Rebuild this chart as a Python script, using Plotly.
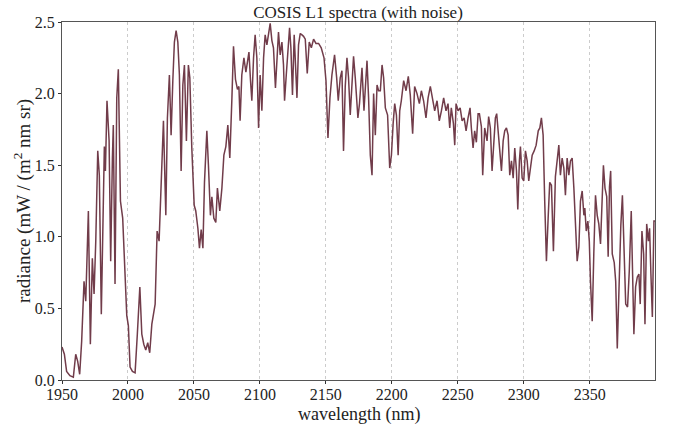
import plotly.graph_objects as go

wavelength = [
    1950.0, 1951.8, 1953.5, 1956.0, 1958.6, 1960.4, 1961.9, 1963.4, 1964.9, 1966.7,
    1968.0, 1970.0, 1971.5, 1973.0, 1974.3, 1975.6, 1977.1, 1978.3, 1979.8, 1980.9,
    1982.1, 1982.9, 1984.1, 1985.7, 1986.9, 1988.2, 1988.9, 1990.2, 1991.5, 1992.7,
    1994.3, 1996.0, 1997.8, 1999.1, 2000.3, 2001.6, 2003.4, 2005.4, 2007.1, 2009.0,
    2010.5, 2012.0, 2013.5, 2015.0, 2016.5, 2018.1, 2020.6, 2022.1, 2023.6, 2025.1,
    2026.9, 2028.7, 2029.9, 2031.4, 2032.7, 2034.0, 2035.2, 2036.5, 2037.8, 2039.0,
    2040.3, 2041.6, 2042.8, 2044.3, 2045.8, 2046.9, 2048.4, 2050.2, 2051.4, 2053.0,
    2054.2, 2055.5, 2056.8, 2058.0, 2059.8, 2061.0, 2062.5, 2063.6, 2065.1, 2066.6,
    2067.8, 2069.6, 2071.2, 2072.7, 2074.2, 2075.7, 2077.2, 2078.8, 2080.0, 2081.5,
    2083.0, 2084.1, 2085.0, 2086.3, 2087.9, 2089.4, 2090.6, 2091.7, 2092.9, 2093.9,
    2095.2, 2096.4, 2097.7, 2099.0, 2100.2, 2101.5, 2102.8, 2104.0, 2105.3, 2106.5,
    2107.8, 2109.1, 2110.3, 2111.8, 2113.1, 2114.1, 2115.4, 2116.7, 2117.9, 2118.7,
    2120.0, 2121.2, 2122.5, 2123.5, 2124.7, 2126.0, 2127.0, 2128.1, 2129.3, 2130.6,
    2131.9, 2133.1, 2134.4, 2135.9, 2137.4, 2139.0, 2140.7, 2142.5, 2144.5, 2146.5,
    2148.6, 2150.1, 2151.6, 2153.1, 2154.6, 2156.6, 2158.2, 2159.4, 2160.9, 2162.2,
    2163.4, 2164.7, 2166.0, 2167.2, 2168.5, 2169.8, 2171.0, 2172.3, 2174.3, 2175.5,
    2177.4, 2178.9, 2181.2, 2182.4, 2183.7, 2185.0, 2186.2, 2187.5, 2188.8, 2190.0,
    2191.3, 2192.6, 2193.8, 2195.1, 2196.8, 2198.4, 2199.7, 2201.0, 2202.2, 2203.5,
    2204.8, 2206.0, 2207.2, 2209.0, 2210.8, 2212.5, 2214.0, 2215.8, 2217.3, 2219.1,
    2220.9, 2222.4, 2224.1, 2225.9, 2227.5, 2229.2, 2231.0, 2232.5, 2234.3, 2236.0,
    2237.6, 2239.3, 2241.1, 2242.6, 2243.9, 2245.1, 2246.7, 2247.7, 2248.7, 2250.2,
    2251.8, 2253.3, 2254.8, 2256.3, 2257.8, 2259.3, 2260.3, 2261.6, 2262.8, 2264.1,
    2265.4, 2266.4, 2267.9, 2268.9, 2270.4, 2272.2, 2273.4, 2274.7, 2276.0, 2277.2,
    2278.5, 2279.5, 2280.6, 2281.8, 2283.1, 2284.4, 2285.6, 2286.9, 2288.2, 2289.4,
    2290.7, 2292.0, 2293.2, 2294.5, 2295.5, 2296.7, 2297.5, 2298.8, 2300.0, 2301.3,
    2302.6, 2303.8, 2305.1, 2306.4, 2307.9, 2309.4, 2311.0, 2312.2, 2313.4, 2314.7,
    2315.9, 2317.2, 2318.5, 2319.7, 2321.0, 2322.5, 2324.0, 2325.3, 2326.6, 2327.8,
    2329.1, 2330.4, 2331.6, 2332.9, 2334.2, 2335.4, 2336.7, 2338.0, 2339.2, 2340.5,
    2341.8, 2343.0, 2344.3, 2345.6, 2346.3, 2347.4, 2348.6, 2349.7, 2350.6, 2351.9,
    2353.1, 2354.4, 2355.7, 2356.9, 2358.2, 2359.5, 2360.4, 2361.6, 2362.9, 2364.0,
    2365.0, 2365.9, 2367.1, 2368.6, 2369.7, 2370.9, 2372.2, 2373.6, 2374.8, 2376.0,
    2377.3, 2378.7, 2380.0, 2381.5, 2382.5, 2383.5, 2384.8, 2386.1, 2387.3, 2388.3,
    2389.6, 2390.9, 2391.9, 2393.2, 2394.5, 2395.4, 2396.4, 2397.5, 2398.7, 2399.8,
]

radiance = [
    0.23, 0.18, 0.06, 0.03, 0.02, 0.18, 0.13, 0.04, 0.27, 0.69,
    0.55, 1.18, 0.25, 0.85, 0.60, 0.97, 1.60, 1.43, 0.46, 1.15,
    1.63, 1.46, 1.95, 1.67, 0.83, 1.55, 1.78, 0.67, 1.97, 2.17,
    1.25, 1.13, 0.75, 0.45, 0.38, 0.09, 0.06, 0.05, 0.32, 0.65,
    0.32, 0.25, 0.21, 0.26, 0.19, 0.39, 0.53, 1.04, 0.97, 1.39,
    1.81, 1.15, 1.83, 2.13, 1.71, 2.09, 2.36, 2.44, 2.36, 2.13,
    1.46, 2.06, 2.20, 1.67, 2.20, 2.11, 1.62, 1.22, 1.18, 1.06,
    0.92, 1.05, 0.92, 1.38, 1.74, 1.50, 1.15, 1.28, 1.13, 1.10,
    1.34, 1.18, 1.34, 1.57, 1.63, 1.78, 1.55, 1.97, 2.33, 2.10,
    2.03, 2.05, 1.81, 2.13, 2.25, 2.15, 2.23, 2.29, 2.09, 1.95,
    2.25, 2.41, 2.25, 1.76, 2.13, 1.88, 2.25, 2.41, 2.34, 2.43,
    2.49, 2.37, 2.32, 2.04, 2.32, 2.43, 2.27, 2.36, 2.20, 1.95,
    2.13, 2.30, 2.46, 2.32, 1.99, 2.41, 2.20, 1.97, 2.34, 2.42,
    2.41, 2.40, 2.38, 2.14, 2.36, 2.32, 2.38, 2.35, 2.35, 2.32,
    2.25, 2.09, 1.69, 1.97, 2.13, 2.27, 2.11, 1.95, 2.11, 2.16,
    1.60, 2.05, 2.25, 2.11, 1.85, 2.09, 2.26, 2.11, 1.83, 1.93,
    2.18, 1.88, 2.23, 1.97, 1.57, 1.43, 2.00, 1.71, 2.06, 2.02,
    2.02, 2.20, 2.11, 1.90, 1.85, 1.48, 1.57, 1.79, 1.93, 1.85,
    1.57, 1.88, 1.95, 2.09, 2.02, 2.12, 1.99, 1.72, 2.05, 2.00,
    1.93, 2.02, 1.95, 1.83, 1.97, 2.05, 1.95, 1.88, 1.95, 1.81,
    1.88, 1.97, 1.88, 1.93, 1.76, 1.90, 1.79, 1.64, 1.93, 1.88,
    1.90, 1.81, 1.83, 1.74, 1.83, 1.90, 1.76, 1.62, 1.74, 1.66,
    1.86, 1.86, 1.77, 1.43, 1.76, 1.67, 1.84, 1.76, 1.46, 1.69,
    1.83, 1.86, 1.74, 1.64, 1.46, 1.67, 1.74, 1.76, 1.71, 1.43,
    1.53, 1.41, 1.62, 1.46, 1.19, 1.53, 1.63, 1.41, 1.39, 1.60,
    1.53, 1.39, 1.50, 1.57, 1.60, 1.64, 1.74, 1.76, 1.83, 1.71,
    1.25, 0.83, 1.13, 1.38, 1.36, 0.90, 1.42, 1.55, 1.64, 1.43,
    1.55, 1.48, 1.29, 1.55, 1.43, 1.53, 1.55, 1.34, 1.06, 0.83,
    0.93, 1.25, 1.32, 1.15, 1.20, 1.04, 1.11, 0.97, 0.69, 0.41,
    0.88, 1.29, 1.15, 1.09, 0.95, 1.30, 1.50, 1.34, 1.28, 0.86,
    1.35, 1.46, 0.88, 0.82, 0.69, 0.22, 0.65, 1.08, 1.29, 0.93,
    0.53, 0.51, 0.76, 1.18, 0.74, 0.32, 0.65, 0.72, 0.74, 0.53,
    1.04, 0.88, 0.39, 1.09, 0.97, 1.06, 0.74, 0.44, 1.11, 1.11,
]

x_ticks = [1950, 2000, 2050, 2100, 2150, 2200, 2250, 2300, 2350]
y_ticks = [0.0, 0.5, 1.0, 1.5, 2.0, 2.5]

FONT = "Liberation Serif"
W, H = 673, 425

fig = go.Figure()
fig.add_trace(go.Scatter(
    x=wavelength, y=radiance, mode="lines",
    line=dict(color="#713c4a", width=1.5),
    showlegend=False,
))

fig.update_layout(
    width=W, height=H,
    margin=dict(l=62, r=18, t=22, b=45, autoexpand=False),
    paper_bgcolor="white", plot_bgcolor="white",
    font=dict(family=FONT, size=15, color="#222"),
    title=dict(text="COSIS L1 spectra (with noise)", x=358 / W, xanchor="center",
               xref="container", y=1 - 12 / H, yanchor="middle", yref="container",
               font=dict(family=FONT, size=17, color="#222")),
    annotations=[
        dict(text="wavelength (nm)", xref="paper", x=0.5, xanchor="center",
             yref="paper", y=-(414 - 380) / (380 - 22), yanchor="middle",
             showarrow=False, font=dict(family=FONT, size=18, color="#222")),
        dict(text="radiance (mW / (m<sup>2</sup> nm sr)", textangle=-90,
             xref="paper", x=-(62 - 22) / (655 - 62), xanchor="center",
             yref="paper", y=0.5, yanchor="middle",
             showarrow=False, font=dict(family=FONT, size=19, color="#222")),
    ],
)
fig.update_xaxes(
    range=[1950, 2399.5], tickvals=x_ticks, ticktext=[str(t) for t in x_ticks],
    showgrid=True, gridcolor="#cccccc", griddash="dot", gridwidth=0.8,
    showline=True, linecolor="#555", linewidth=1, mirror=True,
    ticks="outside", ticklen=3, tickcolor="#333", automargin=False,
    ticklabelstandoff=-3,
    tickfont=dict(family=FONT, size=16), zeroline=False,
)
fig.update_yaxes(
    range=[0, 2.5], tickvals=y_ticks, ticktext=[f"{t:.1f}" for t in y_ticks],
    showgrid=False,
    showline=True, linecolor="#555", linewidth=1, mirror=True,
    ticks="outside", ticklen=3, tickcolor="#333", automargin=False,
    tickfont=dict(family=FONT, size=16), zeroline=False,
)

fig.write_html("out.html")
